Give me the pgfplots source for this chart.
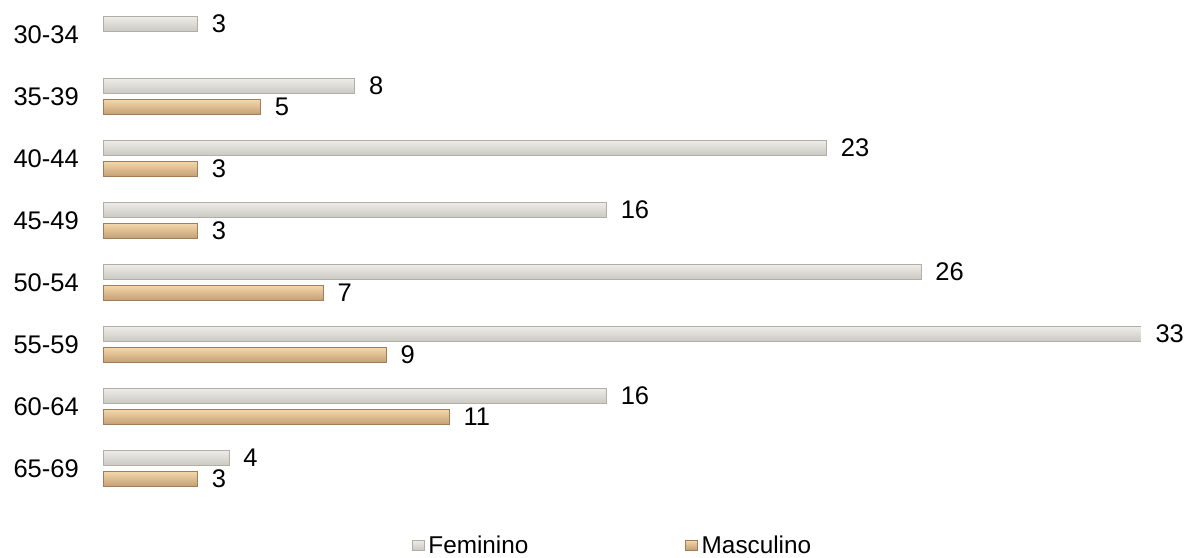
\documentclass[border=0pt]{standalone}
\usepackage{fontspec}
\setmainfont{Liberation Sans}
\usepackage{pgfplots}
\pgfplotsset{compat=1.18}
\definecolor{femDraw}{HTML}{AFAEA7}
\definecolor{femTop}{HTML}{EDECE8}
\definecolor{femMid}{HTML}{FEFEFC}
\definecolor{femBot}{HTML}{C9C8C1}
\definecolor{masDraw}{HTML}{A07E5C}
\definecolor{masTop}{HTML}{F3D8AA}
\definecolor{masMid}{HTML}{FEEAC2}
\definecolor{masBot}{HTML}{C49E74}
\pgfplotsset{
  fem/.style={xbar, bar width=15bp, bar shift=10.5bp, draw=femDraw, top color=femTop, middle color=femMid, bottom color=femBot},
  mas/.style={xbar, bar width=15bp, bar shift=-10.5bp, draw=masDraw, top color=masTop, middle color=masMid, bottom color=masBot},
}
\begin{document}
\begin{tikzpicture}[font=\fontsize{25.5bp}{30bp}\selectfont]
\useasboundingbox (0,0) rectangle (1187bp,558bp);
\begin{axis}[
  at={(103bp,58.5bp)}, anchor=south west,
  scale only axis, width=1038bp, height=496bp,
  xmin=0, xmax=33, ymin=-0.5, ymax=7.5,
  xbar, bar width=15bp,
  axis x line=none,
  axis y line*=left,
  y axis line style={draw=none},
  ytick style={draw=none},
  ytick={0,1,2,3,4,5,6,7},
  yticklabels={65-69,60-64,55-59,50-54,45-49,40-44,35-39,30-34},
  yticklabel style={font=\fontsize{25.5bp}{30bp}\selectfont, xshift=-16.5bp},
  /pgf/number format/assume math mode=true,
  nodes near coords,
  every node near coord/.append style={anchor=west, xshift=11bp, font=\fontsize{25.5bp}{30bp}\selectfont, text=black},
  legend columns=2,
  legend style={draw=none, fill=none, inner sep=0pt, outer sep=0pt,
    at={(0.2977,-0.092)}, anchor=west,
    nodes={inner sep=0pt, font=\fontsize{24.3bp}{29bp}\selectfont},
    /tikz/every even column/.append style={column sep=157bp}},
  legend image code/.code={\draw[#1] (0bp,-5bp) rectangle (12bp,5bp); \path (16bp,0);},
]
% Feminino
\addplot[fem] coordinates {(3,7)};
\addlegendentry{Feminino}
% Masculino
\addplot[mas] coordinates {(5,6)};
\addlegendentry{Masculino}
\addplot[fem, forget plot] coordinates {(8,6)};
\addplot[fem, forget plot] coordinates {(23,5)};
\addplot[fem, forget plot] coordinates {(16,4)};
\addplot[fem, forget plot] coordinates {(26,3)};
\addplot[fem, forget plot] coordinates {(33,2)};
\addplot[fem, forget plot] coordinates {(16,1)};
\addplot[fem, forget plot] coordinates {(4,0)};
\addplot[mas, forget plot] coordinates {(3,5)};
\addplot[mas, forget plot] coordinates {(3,4)};
\addplot[mas, forget plot] coordinates {(7,3)};
\addplot[mas, forget plot] coordinates {(9,2)};
\addplot[mas, forget plot] coordinates {(11,1)};
\addplot[mas, forget plot] coordinates {(3,0)};
\end{axis}
\end{tikzpicture}
\end{document}
